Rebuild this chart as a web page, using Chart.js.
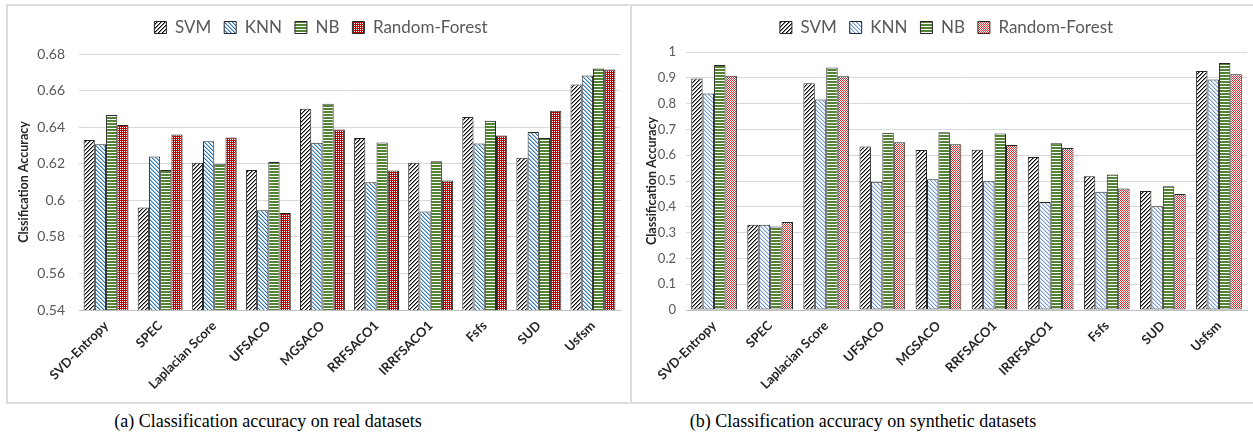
<!DOCTYPE html>
<html>
<head>
<meta charset="utf-8">
<script src="https://cdn.jsdelivr.net/npm/chart.js@4.4.1/dist/chart.umd.min.js"></script>
<style>
  html, body { margin: 0; padding: 0; background: #ffffff; }
  body { width: 1253px; height: 443px; position: relative; overflow: hidden; }
  .panel { position: absolute; box-sizing: border-box; border: 2px solid #dcdcdc; background: #fff; }
  .panel canvas { position: absolute; left: 0; top: 0; }
  .caption { position: absolute; top: 411px; font-family: "Liberation Serif", "Times New Roman", serif; font-size: 18px; color: #000; white-space: nowrap; transform: translateX(-50%); }
</style>
</head>
<body>
<div class="panel" id="panelA" style="left:6px; top:4px; width:623px; height:400px; border-right:none;">
  <canvas id="chartA" width="621" height="396"></canvas>
</div>
<div class="panel" id="panelB" style="left:630px; top:4px; width:628px; height:400px;">
  <canvas id="chartB" width="624" height="396"></canvas>
</div>
<div class="caption" style="left:268px;">(a) Classification accuracy on real datasets</div>
<div class="caption" style="left:863px;">(b) Classification accuracy on synthetic datasets</div>

<script>
// ---------------- DATA ----------------
const categories = ['SVD-Entropy', 'SPEC', 'Laplacian Score', 'UFSACO', 'MGSACO', 'RRFSACO1', 'IRRFSACO1', 'Fsfs', 'SUD', 'Usfsm'];
const seriesNames = ['SVM', 'KNN', 'NB', 'Random-Forest'];

// (a) real datasets
const realSVM = [0.633, 0.596, 0.6205, 0.6165, 0.650, 0.634, 0.6205, 0.6456, 0.6233, 0.6633];
const realKNN = [0.6307, 0.624, 0.6323, 0.5945, 0.6314, 0.6098, 0.5938, 0.631, 0.6373, 0.6682];
const realNB  = [0.6467, 0.6165, 0.620, 0.6209, 0.6528, 0.6316, 0.6213, 0.6435, 0.634, 0.6721];
const realRF  = [0.6412, 0.636, 0.6343, 0.593, 0.6387, 0.6163, 0.6108, 0.6354, 0.6489, 0.6715];
const realTickLabels = ['0.54', '0.56', '0.58', '0.6', '0.62', '0.64', '0.66', '0.68'];

// (b) synthetic datasets
const synSVM = [0.897, 0.330, 0.879, 0.634, 0.620, 0.621, 0.593, 0.518, 0.461, 0.926];
const synKNN = [0.839, 0.330, 0.816, 0.497, 0.507, 0.499, 0.419, 0.458, 0.402, 0.893];
const synNB  = [0.950, 0.324, 0.940, 0.687, 0.689, 0.684, 0.646, 0.525, 0.480, 0.957];
const synRF  = [0.908, 0.341, 0.906, 0.650, 0.642, 0.640, 0.628, 0.471, 0.450, 0.914];
const synTickLabels = ['0', '0.1', '0.2', '0.3', '0.4', '0.5', '0.6', '0.7', '0.8', '0.9', '1'];

// ---------------- PATTERNS ----------------
function hexToRgb(h) {
  h = h.replace('#', '');
  return [parseInt(h.substr(0, 2), 16), parseInt(h.substr(2, 2), 16), parseInt(h.substr(4, 2), 16)];
}
function makePattern(size, fn) {
  const c = document.createElement('canvas');
  c.width = size; c.height = size;
  const ctx = c.getContext('2d');
  const img = ctx.createImageData(size, size);
  for (let y = 0; y < size; y++) {
    for (let x = 0; x < size; x++) {
      const col = fn(x, y);
      const i = (y * size + x) * 4;
      img.data[i] = col[0]; img.data[i + 1] = col[1]; img.data[i + 2] = col[2]; img.data[i + 3] = 255;
    }
  }
  ctx.putImageData(img, 0, 0);
  return document.createElement('canvas').getContext('2d').createPattern(c, 'repeat');
}
const WHITE = [255, 255, 255];
function diagUp(color, light) {
  const c = hexToRgb(color), l = hexToRgb(light);
  return makePattern(4, (x, y) => {
    const d = (x + y) % 4;
    return d === 0 ? c : (d === 1 ? l : WHITE);
  });
}
function diagDown(color, light) {
  const c = hexToRgb(color), l = hexToRgb(light);
  return makePattern(4, (x, y) => {
    const d = ((x - y) % 4 + 4) % 4;
    return d === 0 ? c : (d === 1 ? l : WHITE);
  });
}
function horiz(color) {
  const c = hexToRgb(color);
  return makePattern(6, (x, y) => (y % 3 === 2 ? WHITE : c));
}
function checker(color, dense) {
  const c = hexToRgb(color);
  if (dense) return makePattern(4, (x, y) => ((x + y) % 2 === 0 ? c : (x % 2 === 0 ? WHITE : c)));
  return makePattern(4, (x, y) => ((x + y) % 2 === 0 ? c : WHITE));
}

// ---------------- PLUGIN: fixed legend block ----------------
function legendBlock(height, shiftY, shiftX) {
  return {
    id: 'legendBlock',
    beforeInit(chart) {
      const lg = chart.legend;
      if (!lg) return;
      const origFit = lg.fit;
      lg.fit = function () { origFit.call(this); this.height = height; };
      const origDraw = lg.draw;
      lg.draw = function () {
        const t = this.top, l = this.left, r = this.right;
        this.top = t - shiftY; this.left = l + shiftX; this.right = r + shiftX;
        origDraw.call(this);
        this.top = t; this.left = l; this.right = r;
      };
    }
  };
}

function buildChart(id, cfg) {
  const datasets = cfg.series.map((vals, i) => ({
    label: seriesNames[i],
    data: vals,
    backgroundColor: cfg.fills[i],
    borderColor: '#262626',
    borderWidth: 1,
    borderSkipped: false,
    categoryPercentage: cfg.catPct,
    barPercentage: 1.0
  }));
  return new Chart(document.getElementById(id), {
    type: 'bar',
    data: { labels: categories, datasets },
    options: {
      responsive: false,
      animation: false,
      devicePixelRatio: 1,
      layout: { padding: { top: 0, left: 0, right: cfg.padRight, bottom: 0 } },
      plugins: {
        legend: {
          display: true,
          position: 'top',
          align: 'center',
          labels: {
            boxWidth: 12, boxHeight: 12, padding: 13,
            color: '#595959',
            font: { family: 'Lato, "Open Sans", sans-serif', size: 17 }
          }
        },
        tooltip: { enabled: false }
      },
      scales: {
        x: {
          grid: { display: false, drawTicks: false },
          border: { display: true, color: '#bfbfbf', width: 1 },
          ticks: {
            autoSkip: false, maxRotation: 45, minRotation: 45, padding: 8,
            color: '#262626',
            font: { family: 'Lato, "Open Sans", sans-serif', size: 13, weight: 'bold' }
          },
          afterFit(s) { s.height = cfg.xHeight; }
        },
        y: {
          min: cfg.min, max: cfg.max,
          grid: { color: '#d9d9d9', lineWidth: 1, drawTicks: false },
          border: { display: false },
          ticks: {
            stepSize: cfg.step, padding: cfg.tickPad, color: '#595959',
            font: { family: 'Lato, "Open Sans", sans-serif', size: cfg.tickSize },
            callback: (v, i) => cfg.tickLabels[i]
          },
          title: {
            display: true, text: cfg.yTitle, color: '#262626',
            padding: { top: cfg.titlePad, bottom: 0 },
            font: { family: 'Lato, "Open Sans", sans-serif', size: 12.5, weight: 'bold' }
          },
          afterFit(s) { s.width = cfg.yWidth; }
        }
      }
    },
    plugins: [legendBlock(cfg.legendH, cfg.legendShift, cfg.legendDx)]
  });
}

buildChart('chartA', {
  series: [realSVM, realKNN, realNB, realRF],
  fills: [diagUp('#000000', '#8a8a8a'), diagDown('#2e75b6', '#9dc3e6'), horiz('#548235'), checker('#c00000', true)],
  catPct: 0.83, min: 0.54, max: 0.68, step: 0.02, tickLabels: realTickLabels,
  tickSize: 14, tickPad: 14, yWidth: 71, xHeight: 92, legendH: 48, legendShift: 0, legendDx: 7,
  padRight: 9, titlePad: 8, yTitle: 'Clssification Accuracy'
});

buildChart('chartB', {
  series: [synSVM, synKNN, synNB, synRF],
  fills: [diagUp('#000000', '#8a8a8a'), diagDown('#6f97dc', '#c5d6f2'), horiz('#548235'), checker('#dc3030', false)],
  catPct: 0.815, min: 0, max: 1, step: 0.1, tickLabels: synTickLabels,
  tickSize: 13, tickPad: 10, yWidth: 54, xHeight: 92, legendH: 46, legendShift: 0, legendDx: 7,
  padRight: 9, titlePad: 12, yTitle: 'Classification Accuracy'
});
</script>
</body>
</html>
